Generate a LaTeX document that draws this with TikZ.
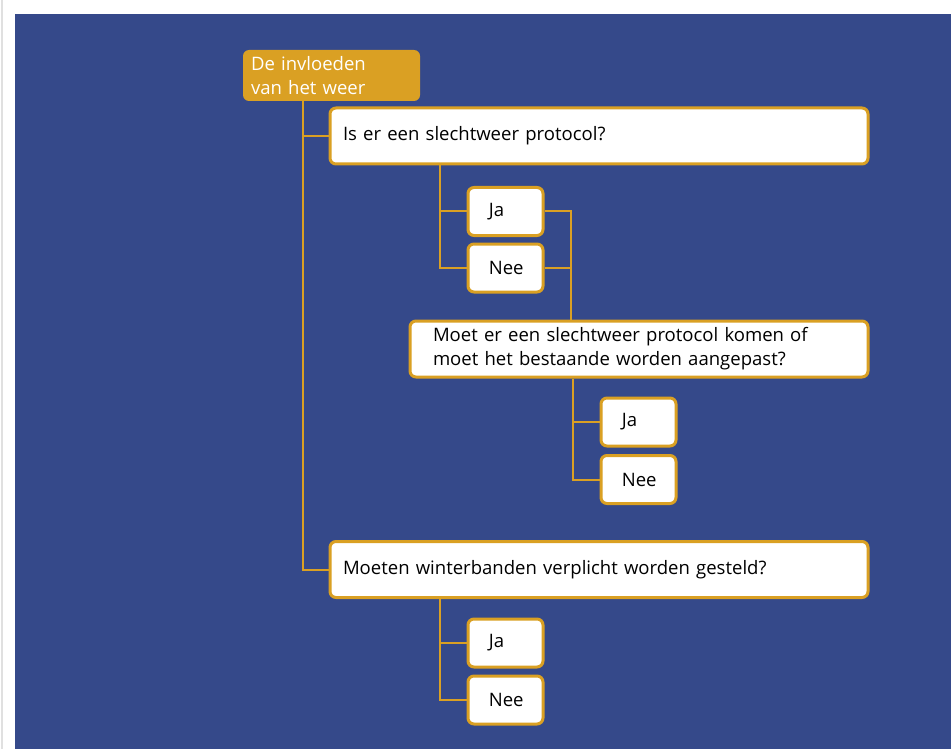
\documentclass[tikz,border=0pt]{standalone}
\usepackage{fontspec}
\setmainfont{Open Sans}
\usepackage{tikz}
\usetikzlibrary{positioning, calc}
\definecolor{WBlue}{RGB}{53,73,138}
\definecolor{WGold}{RGB}{218,160,35}
\definecolor{WGrey}{RGB}{224,224,224}

\begin{document}
\begin{tikzpicture}[x=0.75pt, y=-0.75pt,
      root/.style={rectangle, rounded corners=4.5pt, fill=WGold, text=white,
                   minimum width=132.75pt, minimum height=38.25pt,
                   inner xsep=6pt, text width=120.75pt, align=left,
                   font=\fontsize{13.9}{17.5}\selectfont},
      qbox/.style={rectangle, rounded corners=4.5pt, draw=WGold, line width=2.25pt,
                   fill=white, minimum height=42pt, inner xsep=9.5pt, align=left,
                   font=\fontsize{13.9}{18}\selectfont},
      abox/.style={rectangle, rounded corners=4.5pt, draw=WGold, line width=2.25pt,
                   fill=white, minimum width=56.25pt, minimum height=36pt,
                   inner xsep=15.5pt, text width=25pt, align=left,
                   font=\fontsize{13.9}{15}\selectfont},
      link/.style={draw=WGold, line width=1.5pt}
    ]
    % page and panel
    \useasboundingbox (0,0) rectangle (951,749);
    \fill[white] (0,0) rectangle (951,749);
    \draw[WGrey, line width=1.2pt] (2,0) -- (2,749);
    \fill[WBlue] (15,14) rectangle (951,749);

    % trunk positions
    \coordinate (rt) at (303,0);
    \coordinate (k1) at (440,0);
    \coordinate (m1) at (571,0);
    \coordinate (k2) at (573,0);

    \node[root] (weer) at (331.5,75.5) {De invloeden\\van het weer};

    \node[qbox, minimum width=403.5pt, text width=384pt] (q1) at (599,136)
          {Is er een slechtweer protocol?};
    \node[abox] (q1ja)  at (505.5,211.5) {Ja};
    \node[abox] (q1nee) at (505.5,268)   {Nee};

    \node[qbox, minimum width=343.5pt, text width=309pt, inner xsep=17pt] (q2) at (639,349)
          {Moet er een slechtweer protocol komen of\\moet het bestaande worden aangepast?};
    \node[abox] (q2ja)  at (638.5,422)   {Ja};
    \node[abox] (q2nee) at (638.5,479.5) {Nee};

    \node[qbox, minimum width=403.5pt, text width=384pt] (q3) at (599,569.5)
          {Moeten winterbanden verplicht worden gesteld?};
    \node[abox] (q3ja)  at (505.5,643) {Ja};
    \node[abox] (q3nee) at (505.5,700) {Nee};

    % Tree lines
    \draw[link] (weer.south -| rt) |- (q1.west);
    \draw[link] (weer.south -| rt) |- (q3.west);
    \draw[link] (q1.south -| k1) |- (q1ja.west);
    \draw[link] (q1.south -| k1) |- (q1nee.west);
    \draw[link] (q1ja.east) -| (q2.north -| m1);
    \draw[link] (q1nee.east) -- (q1nee.east -| m1);
    \draw[link] (q2.south -| k2) |- (q2ja.west);
    \draw[link] (q2.south -| k2) |- (q2nee.west);
    \draw[link] (q3.south -| k1) |- (q3ja.west);
    \draw[link] (q3.south -| k1) |- (q3nee.west);
  \end{tikzpicture}
\end{document}
